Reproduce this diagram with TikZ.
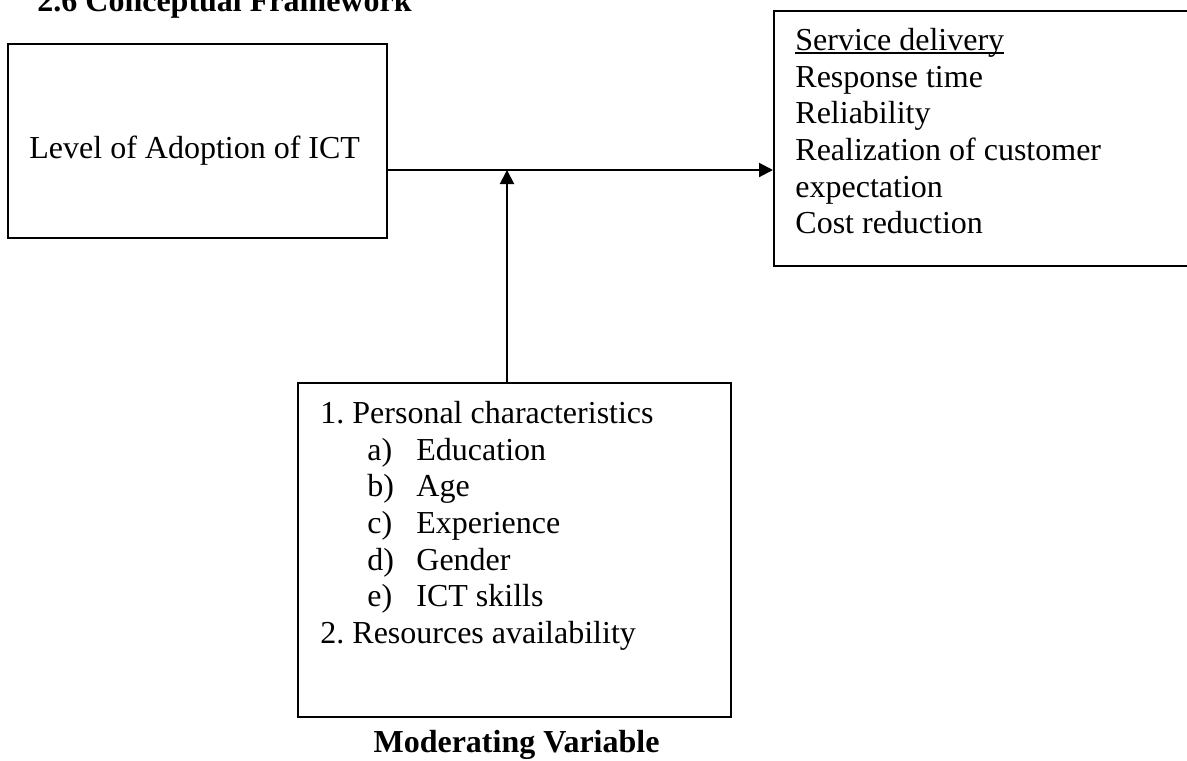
\documentclass[tikz,border=0pt]{standalone}
\usepackage{fontspec}
\setmainfont{Liberation Serif}
\usetikzlibrary{arrows.meta}
\frenchspacing
\newcommand\myul[1]{\setbox0\hbox{#1}\rlap{\rule[-1.6pt]{\wd0}{0.9pt}}\box0}
\begin{document}
\begin{tikzpicture}[x=0.5pt,y=-0.5pt,
  box/.style={draw, line width=1pt, inner sep=0pt},
  txt/.style={inner sep=0pt, align=left, font=\fontsize{16}{18.3}\selectfont},
  conn/.style={line width=1pt, -{Triangle[length=7pt,width=7pt]}}]
\useasboundingbox (0,0) rectangle (1187,760);
\clip (0,0) rectangle (1187,760);
% title
\node[txt, anchor=base west, font=\fontsize{16}{18.3}\selectfont\bfseries] (title) at (37,11) {2.6 Conceptual Framework};
% boxes
\node[box, minimum width=189.5pt, minimum height=97pt] (adopt) at (197.5,141) {};
\node[txt, anchor=base west] (adoptt) at (29,158) {Level of Adoption of ICT};
\node[box, minimum width=213pt, minimum height=127.5pt] (serv) at (987,138.5) {};
\node[txt, anchor=north west] (servt) at (795,28) {\myul{Service delivery}\\Response time\\Reliability\\Realization of customer\\expectation\\Cost reduction};
\node[box, minimum width=216.5pt, minimum height=167pt] (mod) at (514.5,550) {};
\node[txt, anchor=north west] (modt) at (320,401) {1. Personal characteristics\\
\hspace{23.5pt}\makebox[24.5pt][l]{a)}Education\\
\hspace{23.5pt}\makebox[24.5pt][l]{b)}Age\\
\hspace{23.5pt}\makebox[24.5pt][l]{c)}Experience\\
\hspace{23.5pt}\makebox[24.5pt][l]{d)}Gender\\
\hspace{23.5pt}\makebox[24.5pt][l]{e)}ICT skills\\
2. Resources availability};
\node[txt, anchor=base, font=\fontsize{16}{18.3}\selectfont\bfseries] (modl) at (516.5,752) {Moderating Variable};
% connectors
\coordinate (j) at (507,170);
\draw[conn] (adopt.east |- j) -- (serv.west |- j);
\draw[conn] (mod.north -| j) -- (j);
\end{tikzpicture}
\end{document}
